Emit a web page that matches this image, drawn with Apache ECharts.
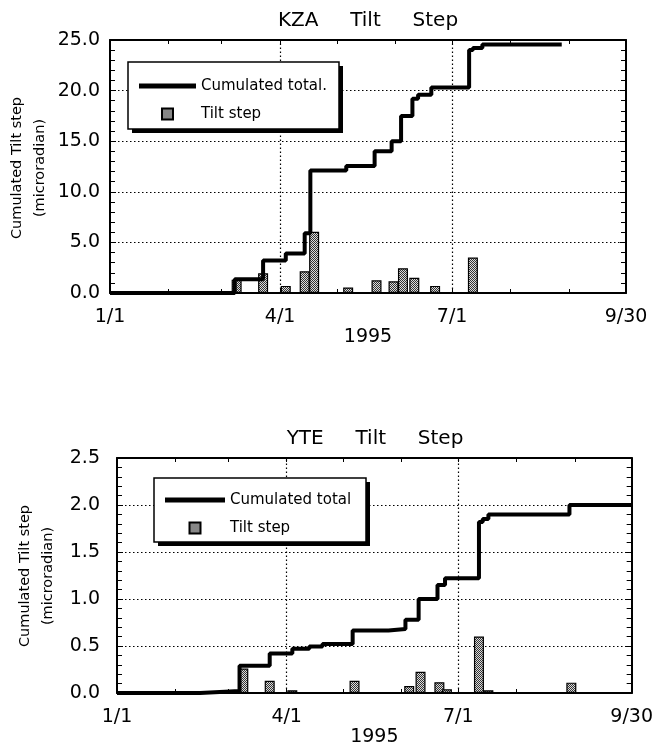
<!DOCTYPE html>
<html>
<head>
<meta charset="utf-8">
<script src="https://cdn.jsdelivr.net/npm/echarts@6/dist/echarts.min.js"></script>
<style>
html,body{margin:0;padding:0;background:#fff;}
#chart{width:656px;height:748px;}
</style>
</head>
<body>
<div id="chart"></div>
<script>
// ---------- DATA ----------
// KZA station
const kzaStepDates  = ['1995-03-09','1995-03-23','1995-04-04','1995-04-14','1995-04-19','1995-05-07','1995-05-22','1995-05-31','1995-06-05','1995-06-11','1995-06-22','1995-07-12'];
const kzaStepValues = [1.3, 1.95, 0.7, 2.15, 6.05, 0.55, 1.25, 1.15, 2.45, 1.5, 0.7, 3.5];
const kzaTotalDates  = ['1995-01-01','1995-03-08','1995-03-23','1995-04-04','1995-04-14','1995-04-17','1995-05-06','1995-05-21','1995-05-30','1995-06-04','1995-06-10','1995-06-13','1995-06-20','1995-07-10','1995-07-12','1995-07-17','1995-08-28'];
const kzaTotalValues = [0, 1.35, 3.2, 3.9, 5.9, 12.1, 12.55, 14.0, 15.0, 17.5, 19.2, 19.6, 20.3, 24.0, 24.2, 24.55, 24.55];

// YTE station
const yteStepDates  = ['1995-03-09','1995-03-23','1995-04-04','1995-05-07','1995-06-05','1995-06-11','1995-06-21','1995-06-25','1995-07-12','1995-07-17','1995-08-30'];
const yteStepValues = [0.26, 0.13, 0.03, 0.13, 0.075, 0.225, 0.115, 0.04, 0.6, 0.03, 0.11];
const yteTotalDates  = ['1995-01-01','1995-02-14','1995-03-07','1995-03-23','1995-04-04','1995-04-13','1995-04-20','1995-05-06','1995-05-25','1995-06-03','1995-06-10','1995-06-20','1995-06-24','1995-07-12','1995-07-14','1995-07-17','1995-08-29','1995-10-01'];
const yteTotalValues = [0, 0.02, 0.29, 0.42, 0.47, 0.495, 0.52, 0.665, 0.68, 0.78, 1.0, 1.15, 1.22, 1.82, 1.85, 1.9, 2.0, 2.0];

// Axis annotations
const axisStart = '1995-01-01';
const axisEnd   = '1995-10-01';
const monthTickDates = ['1995-01-01','1995-02-01','1995-03-01','1995-04-01','1995-05-01','1995-06-01','1995-07-01','1995-08-01','1995-09-01','1995-10-01'];
const labelDates = ['1995-01-01','1995-04-01','1995-07-01','1995-10-01'];
const labelTexts = ['1/1','4/1','7/1','9/30'];
const vGridDates = ['1995-04-01','1995-07-01'];
const yearLabel = '1995';
const kzaTitle = 'KZA     Tilt     Step';
const yteTitle = 'YTE     Tilt     Step';
const yName = 'Cumulated Tilt step\n(microradian)';
const kzaLegendNames = ['Cumulated total.', 'Tilt step'];
const yteLegendNames = ['Cumulated total', 'Tilt step'];

// ---------- HELPERS ----------
const T0 = Date.UTC(1995,0,1);
function dayOf(s){ const p = s.split('-').map(Number); return (Date.UTC(p[0],p[1]-1,p[2]) - T0)/86400000; }
const xMin = dayOf(axisStart), xMax = dayOf(axisEnd);
const monthTicks = monthTickDates.map(dayOf);
const labelDays = labelDates.map(dayOf);
const labelMap = {}; labelDays.forEach((d,i)=>labelMap[d]=labelTexts[i]);
const vGrid = vGridDates.map(dayOf);
function pairs(dates, vals){ return dates.map((d,i)=>[dayOf(d), vals[i]]); }

function makePattern(){
  const c = document.createElement('canvas'); c.width = 2; c.height = 2;
  const g = c.getContext('2d');
  g.fillStyle = '#dcdcdc'; g.fillRect(0,0,2,2);
  g.fillStyle = '#333333'; g.fillRect(0,0,1,1); g.fillRect(1,1,1,1);
  return c;
}
const pattern = {image: makePattern(), repeat: 'repeat'};

const FONT = '"DejaVu Sans", sans-serif';
const dotted = {type:[1.5,2.5], color:'#000', width:1.2};

function xAxes(gridIndex){
  const common = {
    gridIndex, type:'value', min:xMin, max:xMax,
    axisLine:{show:true, onZero:false, lineStyle:{color:'#000', width:2}},
    axisTick:{show:true, inside:true, length:4, customValues:monthTicks, lineStyle:{color:'#000', width:1}},
    splitLine:{show:false}
  };
  return [
    Object.assign({}, common, {
      position:'bottom',
      axisLabel:{show:true, customValues:labelDays, formatter:v=>labelMap[v]||'', color:'#000', fontSize:19, fontFamily:FONT, margin:15},
      name:yearLabel, nameLocation:'middle', nameGap:35,
      nameTextStyle:{color:'#000', fontSize:19, fontFamily:FONT}
    }),
    Object.assign({}, common, {position:'top', axisLabel:{show:false}})
  ];
}
function yAxes(gridIndex, max, interval, labelMargin){
  const common = {
    gridIndex, type:'value', min:0, max, interval,
    axisLine:{show:true, onZero:false, lineStyle:{color:'#000', width:2}},
    axisTick:{show:true, inside:true, length:6, lineStyle:{color:'#000', width:1}},
    minorTick:{show:true, splitNumber:5, length:5, lineStyle:{color:'#000', width:1}}
  };
  return [
    Object.assign({}, common, {
      position:'left',
      axisLabel:{show:true, formatter:v=>v.toFixed(1), color:'#000', fontSize:19, fontFamily:FONT, margin:labelMargin},
      splitLine:{show:true, lineStyle:dotted}
    }),
    Object.assign({}, common, {position:'right', axisLabel:{show:false}, splitLine:{show:false}})
  ];
}
function seriesFor(xi, yi, stepName, totalName, stepDates, stepVals, totDates, totVals){
  return [
    {
      name: stepName, type:'bar', xAxisIndex:xi, yAxisIndex:yi,
      barWidth:10, z:2,
      itemStyle:{color:pattern, borderColor:'#000', borderWidth:1.2},
      data: pairs(stepDates, stepVals)
    },
    {
      name: totalName, type:'line', xAxisIndex:xi, yAxisIndex:yi,
      step:'end', showSymbol:false, symbol:'none', z:3,
      color:'#000',
      lineStyle:{color:'#000', width:4},
      data: pairs(totDates, totVals),
      markLine:{
        silent:true, symbol:'none', label:{show:false}, z:1,
        lineStyle:dotted,
        data: vGrid.map(d=>({xAxis:d}))
      }
    }
  ];
}
function legend(left, top, names, lineLen, padding){
  return {
    left, top, orient:'vertical', selectedMode:false, z:10,
    data:[
      {name:names[0], icon:'path://M0,0H'+lineLen+'V5H0Z', itemStyle:{color:'#000', borderWidth:0}},
      {name:names[1], icon:'path://M0,0H10V10H0Z'}
    ],
    itemWidth:lineLen, itemHeight:11, itemGap:10,
    padding,
    backgroundColor:'transparent', borderWidth:0,
    textStyle:{color:'#000', fontSize:15, fontFamily:FONT, lineHeight:18}
  };
}
function legendFrame(x, y, w, h){
  return [
    {type:'rect', z:5, silent:true, shape:{x:x+4, y:y+4, width:w, height:h}, style:{fill:'#000'}},
    {type:'rect', z:6, silent:true, shape:{x, y, width:w, height:h}, style:{fill:'#fff', stroke:'#000', lineWidth:1.5}}
  ];
}
function txt(x, y, text, size, rot){
  return {
    type:'text', x, y, rotation: rot||0, silent:true,
    style:{text, fill:'#000', font: size+'px '+FONT, fontSize:size, fontFamily:FONT,
      align:'center', verticalAlign:'middle', textAlign:'center', textVerticalAlign:'middle', lineHeight: size*1.6}
  };
}

const option = {
  animation:false,
  backgroundColor:'#fff',
  grid:[
    {left:110, top:40, width:516, height:253, show:false},
    {left:117, top:458, width:516, height:251, show:false}
  ],
  xAxis: [].concat(xAxes(0), xAxes(1)),
  yAxis: [].concat(yAxes(0, 25, 5, 10), yAxes(1, 2.5, 0.5, 17)),
  legend:[
    legend(128, 62, kzaLegendNames, 57, [15,9,9,11]),
    legend(154, 478, yteLegendNames, 60, [13,14,9,11])
  ],
  series: [].concat(
    seriesFor(0, 0, 'Tilt step', kzaLegendNames[0], kzaStepDates, kzaStepValues, kzaTotalDates, kzaTotalValues),
    seriesFor(2, 2, 'Tilt step', yteLegendNames[0], yteStepDates, yteStepValues, yteTotalDates, yteTotalValues)
  ),
  graphic:{elements:[].concat(
    legendFrame(128, 62, 211, 67),
    legendFrame(154, 478, 212, 64),
    [
      txt(368, 21, kzaTitle, 20),
      txt(375, 439, yteTitle, 20),
      txt(29, 168, yName, 14.5, Math.PI/2),
      txt(37, 576, yName, 14.5, Math.PI/2)
    ]
  )}
};

const chart = echarts.init(document.getElementById('chart'), null, {renderer:'canvas'});
chart.setOption(option);
</script>
</body>
</html>
